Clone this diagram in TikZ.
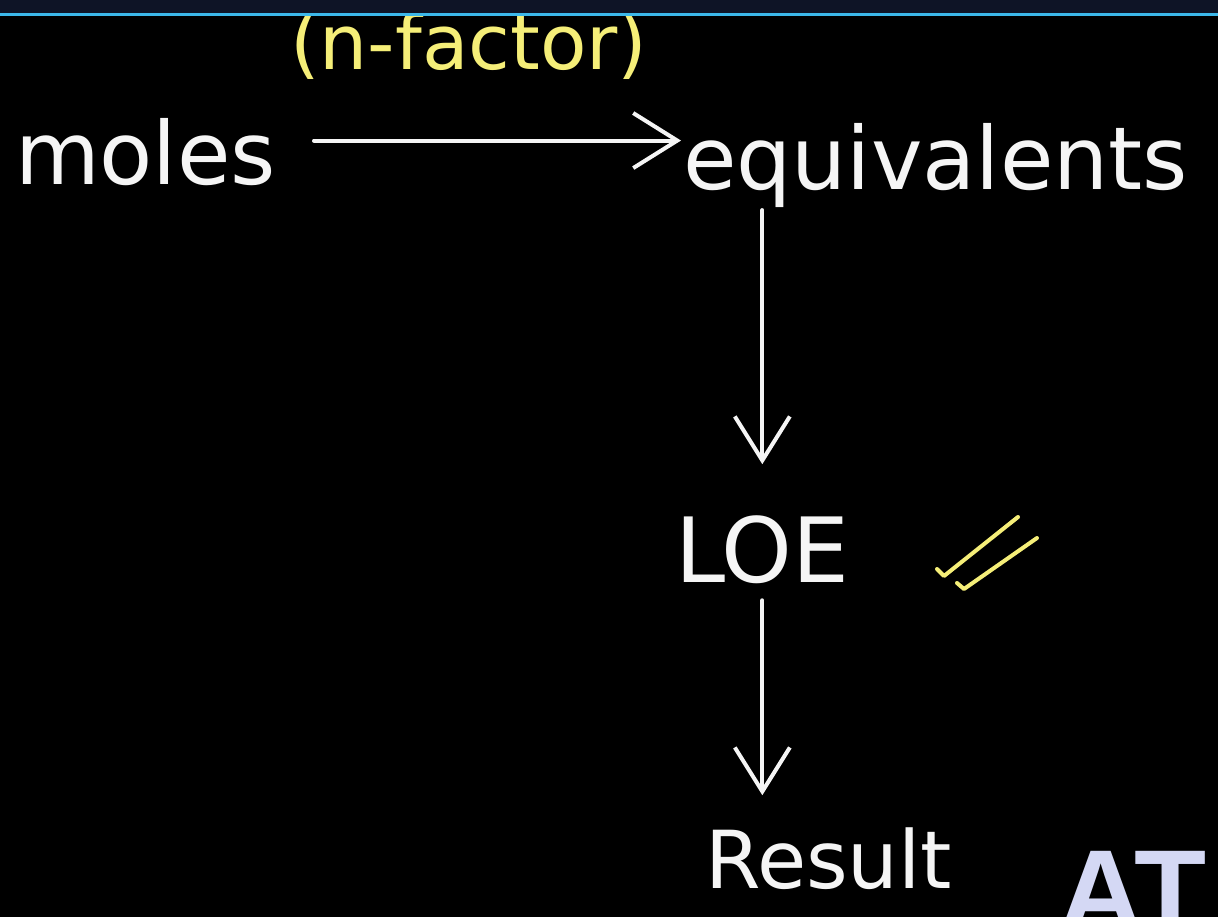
\documentclass[tikz,border=0pt]{standalone}
\usepackage{fontspec}
\usepackage{tikz}
\usetikzlibrary{arrows.meta, calc, positioning}
\newfontfamily\logofont{Liberation Sans}
\newfontfamily\chalkfont{DejaVu Sans}
\definecolor{chalk}{RGB}{245,245,245}
\definecolor{chalkyellow}{RGB}{245,238,120}
\definecolor{topnavy}{RGB}{14,20,38}
\definecolor{topline}{RGB}{60,184,234}
\definecolor{logolav}{RGB}{212,216,244}

\begin{document}
\begin{tikzpicture}[x=1pt, y=-1pt,
    hand/.style={inner sep=0pt, outer sep=0pt, anchor=base west, text=chalk, font=\chalkfont\fontsize{87}{95}\selectfont},
    arr/.style={draw=chalk, line width=4pt, line cap=round, -{Straight Barb[length=44pt, width=55pt, line width=4pt]}},
    slashpen/.style={draw=chalkyellow, line width=4pt, line cap=round, line join=round}]
    \useasboundingbox (0,0) rectangle (1218,917);
    % 1. Nền bảng đen
    \fill[black] (0,0) rectangle (1218,917);

    % 2. Các chữ viết tay
    \node[hand] (moles) at (15,185) {moles};
    \node[hand] (equiv) at (683,190) {equivalents};
    \node[hand, font=\chalkfont\fontsize{90}{100}\selectfont] (loe) at (675,582) {LOE};
    \node[hand, font=\chalkfont\fontsize{80}{90}\selectfont] (result) at (705,888) {Result};
    \node[hand, text=chalkyellow, font=\chalkfont\fontsize{76}{85}\selectfont] (nfactor) at (290,70) {(n-factor)};

    % 3. Các mũi tên
    \draw[arr, shorten <=38pt, shorten >=2pt] ([yshift=12pt]moles.east) -- ([yshift=12pt]moles.east -| equiv.west);
    \draw[arr, shorten <=2pt, shorten >=51pt] (loe.north |- equiv.south) -- (loe.north);
    \draw[arr, shorten <=17pt, shorten >=32pt] (loe.south) -- (loe.south |- result.north);

    % 4. Dấu gạch vàng sau LOE
    \draw[slashpen] (937,569) -- (944,576) -- (1018,517);
    \draw[slashpen] (957,583) -- (964,589) -- (1037,538);

    % 5. Thanh tiêu đề phía trên
    \fill[topnavy] (0,0) rectangle (1218,13);
    \fill[topline] (0,13) rectangle (1218,16);

    % 6. Logo góc dưới
    \node[inner sep=0pt, anchor=base west, text=logolav, font=\logofont\bfseries\fontsize{118}{120}\selectfont] (logo) at (1058,932) {AT};
\end{tikzpicture}
\end{document}
